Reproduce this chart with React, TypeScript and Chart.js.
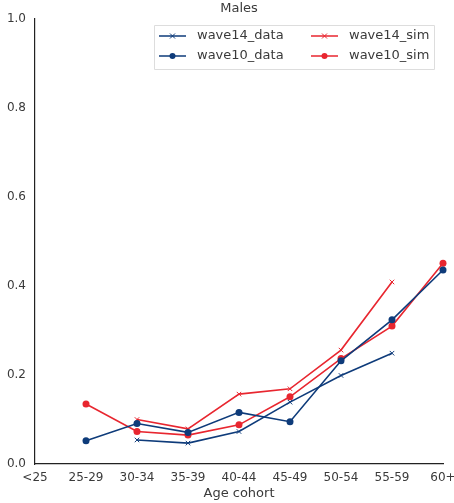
import React, { useEffect, useRef } from "react";
import { Chart, registerables } from "chart.js";

Chart.register(...registerables);

const categories = ["<25", "25-29", "30-34", "35-39", "40-44", "45-49", "50-54", "55-59", "60+"];
const wave14Data = [null, null, 0.054, 0.047, 0.073, 0.139, 0.199, 0.249, null];
const wave10Data = [null, 0.052, 0.091, 0.071, 0.116, 0.095, 0.232, 0.324, 0.436];
const wave14Sim = [null, null, 0.100, 0.079, 0.157, 0.169, 0.256, 0.409, null];
const wave10Sim = [null, 0.135, 0.073, 0.065, 0.088, 0.151, 0.237, 0.310, 0.451];
const yTicks = [0, 0.2, 0.4, 0.6, 0.8, 1.0];

const BLUE = "#0e3b7a";
const RED = "#e8262f";
const FONT = "'DejaVu Sans', sans-serif";
const TEXT = "#3a3a3a";

const legendItems = [
  { label: "wave14_data", color: BLUE, marker: "x", col: 0, row: 0 },
  { label: "wave10_data", color: BLUE, marker: "o", col: 0, row: 1 },
  { label: "wave14_sim", color: RED, marker: "x", col: 1, row: 0 },
  { label: "wave10_sim", color: RED, marker: "o", col: 1, row: 1 },
];

const overlayPlugin = {
  id: "overlay",
  afterDraw(chart: any) {
    const ctx = chart.ctx;
    const area = chart.chartArea;
    ctx.save();
    ctx.fillStyle = TEXT;
    ctx.font = `13px ${FONT}`;
    ctx.textAlign = "center";
    ctx.textBaseline = "middle";
    ctx.fillText("Males", (area.left + area.right) / 2, 9);
    const bx = 154.5, by = 25.5, bw = 280, bh = 44;
    ctx.fillStyle = "rgba(255,255,255,0.8)";
    ctx.strokeStyle = "#dddddd";
    ctx.lineWidth = 1;
    ctx.beginPath();
    ctx.rect(bx, by, bw, bh);
    ctx.fill();
    ctx.stroke();
    const colX = [159, 311];
    const rowY = [36, 56];
    legendItems.forEach((it) => {
      const x0 = colX[it.col];
      const y = rowY[it.row];
      ctx.strokeStyle = it.color;
      ctx.lineWidth = 1.5;
      ctx.beginPath();
      ctx.moveTo(x0, y);
      ctx.lineTo(x0 + 27, y);
      ctx.stroke();
      const cx = x0 + 13.5;
      if (it.marker === "o") {
        ctx.fillStyle = it.color;
        ctx.beginPath();
        ctx.arc(cx, y, 3, 0, Math.PI * 2);
        ctx.fill();
      } else {
        ctx.lineWidth = 1;
        ctx.beginPath();
        ctx.moveTo(cx - 2.5, y - 2.5);
        ctx.lineTo(cx + 2.5, y + 2.5);
        ctx.moveTo(cx - 2.5, y + 2.5);
        ctx.lineTo(cx + 2.5, y - 2.5);
        ctx.stroke();
      }
      ctx.fillStyle = TEXT;
      ctx.font = `13px ${FONT}`;
      ctx.textAlign = "left";
      ctx.textBaseline = "middle";
      ctx.fillText(it.label, x0 + 38, y);
    });
    ctx.restore();
  },
};

export default function App() {
  const ref = useRef<HTMLCanvasElement>(null);
  useEffect(() => {
    document.body.style.margin = "0";
    const mk = (label: string, data: any[], color: string, marker: string) => ({
      label,
      data,
      borderColor: color,
      backgroundColor: color,
      borderWidth: 1.6,
      pointStyle: marker === "x" ? "crossRot" : "circle",
      pointRadius: marker === "x" ? 3.2 : 3.5,
      pointBorderWidth: marker === "x" ? 1 : 0,
      pointBorderColor: color,
      pointBackgroundColor: color,
      spanGaps: false,
      tension: 0,
    });
    const chart = new Chart(ref.current!, {
      type: "line",
      data: {
        labels: categories,
        datasets: [
          mk("wave14_data", wave14Data, BLUE, "x"),
          mk("wave10_data", wave10Data, BLUE, "o"),
          mk("wave14_sim", wave14Sim, RED, "x"),
          mk("wave10_sim", wave10Sim, RED, "o"),
        ],
      },
      options: {
        responsive: false,
        animation: false,
        layout: { padding: { top: 19, right: 11, left: 0, bottom: 0 } },
        plugins: { legend: { display: false }, title: { display: false }, tooltip: { enabled: false } },
        scales: {
          x: {
            type: "category",
            offset: false,
            grid: { display: false, drawTicks: false },
            border: { display: true, color: "#222222", width: 1.2 },
            ticks: { color: TEXT, font: { family: FONT, size: 12 }, padding: 7, maxRotation: 0, autoSkip: false },
            title: { display: true, text: "Age cohort", color: TEXT, font: { family: FONT, size: 13 }, padding: { top: 0, bottom: 2 } },
            afterFit: (s: any) => { s.height = 39; s.paddingLeft = 0; s.paddingRight = 0; },
          },
          y: {
            min: 0,
            max: 1,
            afterBuildTicks: (s: any) => { s.ticks = yTicks.map((v) => ({ value: v })); },
            grid: { display: false, drawTicks: false },
            border: { display: true, color: "#222222", width: 1.2 },
            ticks: { color: TEXT, font: { family: FONT, size: 12 }, padding: 9, callback: (v: any) => Number(v).toFixed(1) },
            afterFit: (s: any) => { s.width = 35; s.paddingTop = 0; s.paddingBottom = 0; },
          },
        },
      },
      plugins: [overlayPlugin],
    });
    return () => chart.destroy();
  }, []);
  return <canvas ref={ref} width={454} height={503} style={{ display: "block" }} />;
}
